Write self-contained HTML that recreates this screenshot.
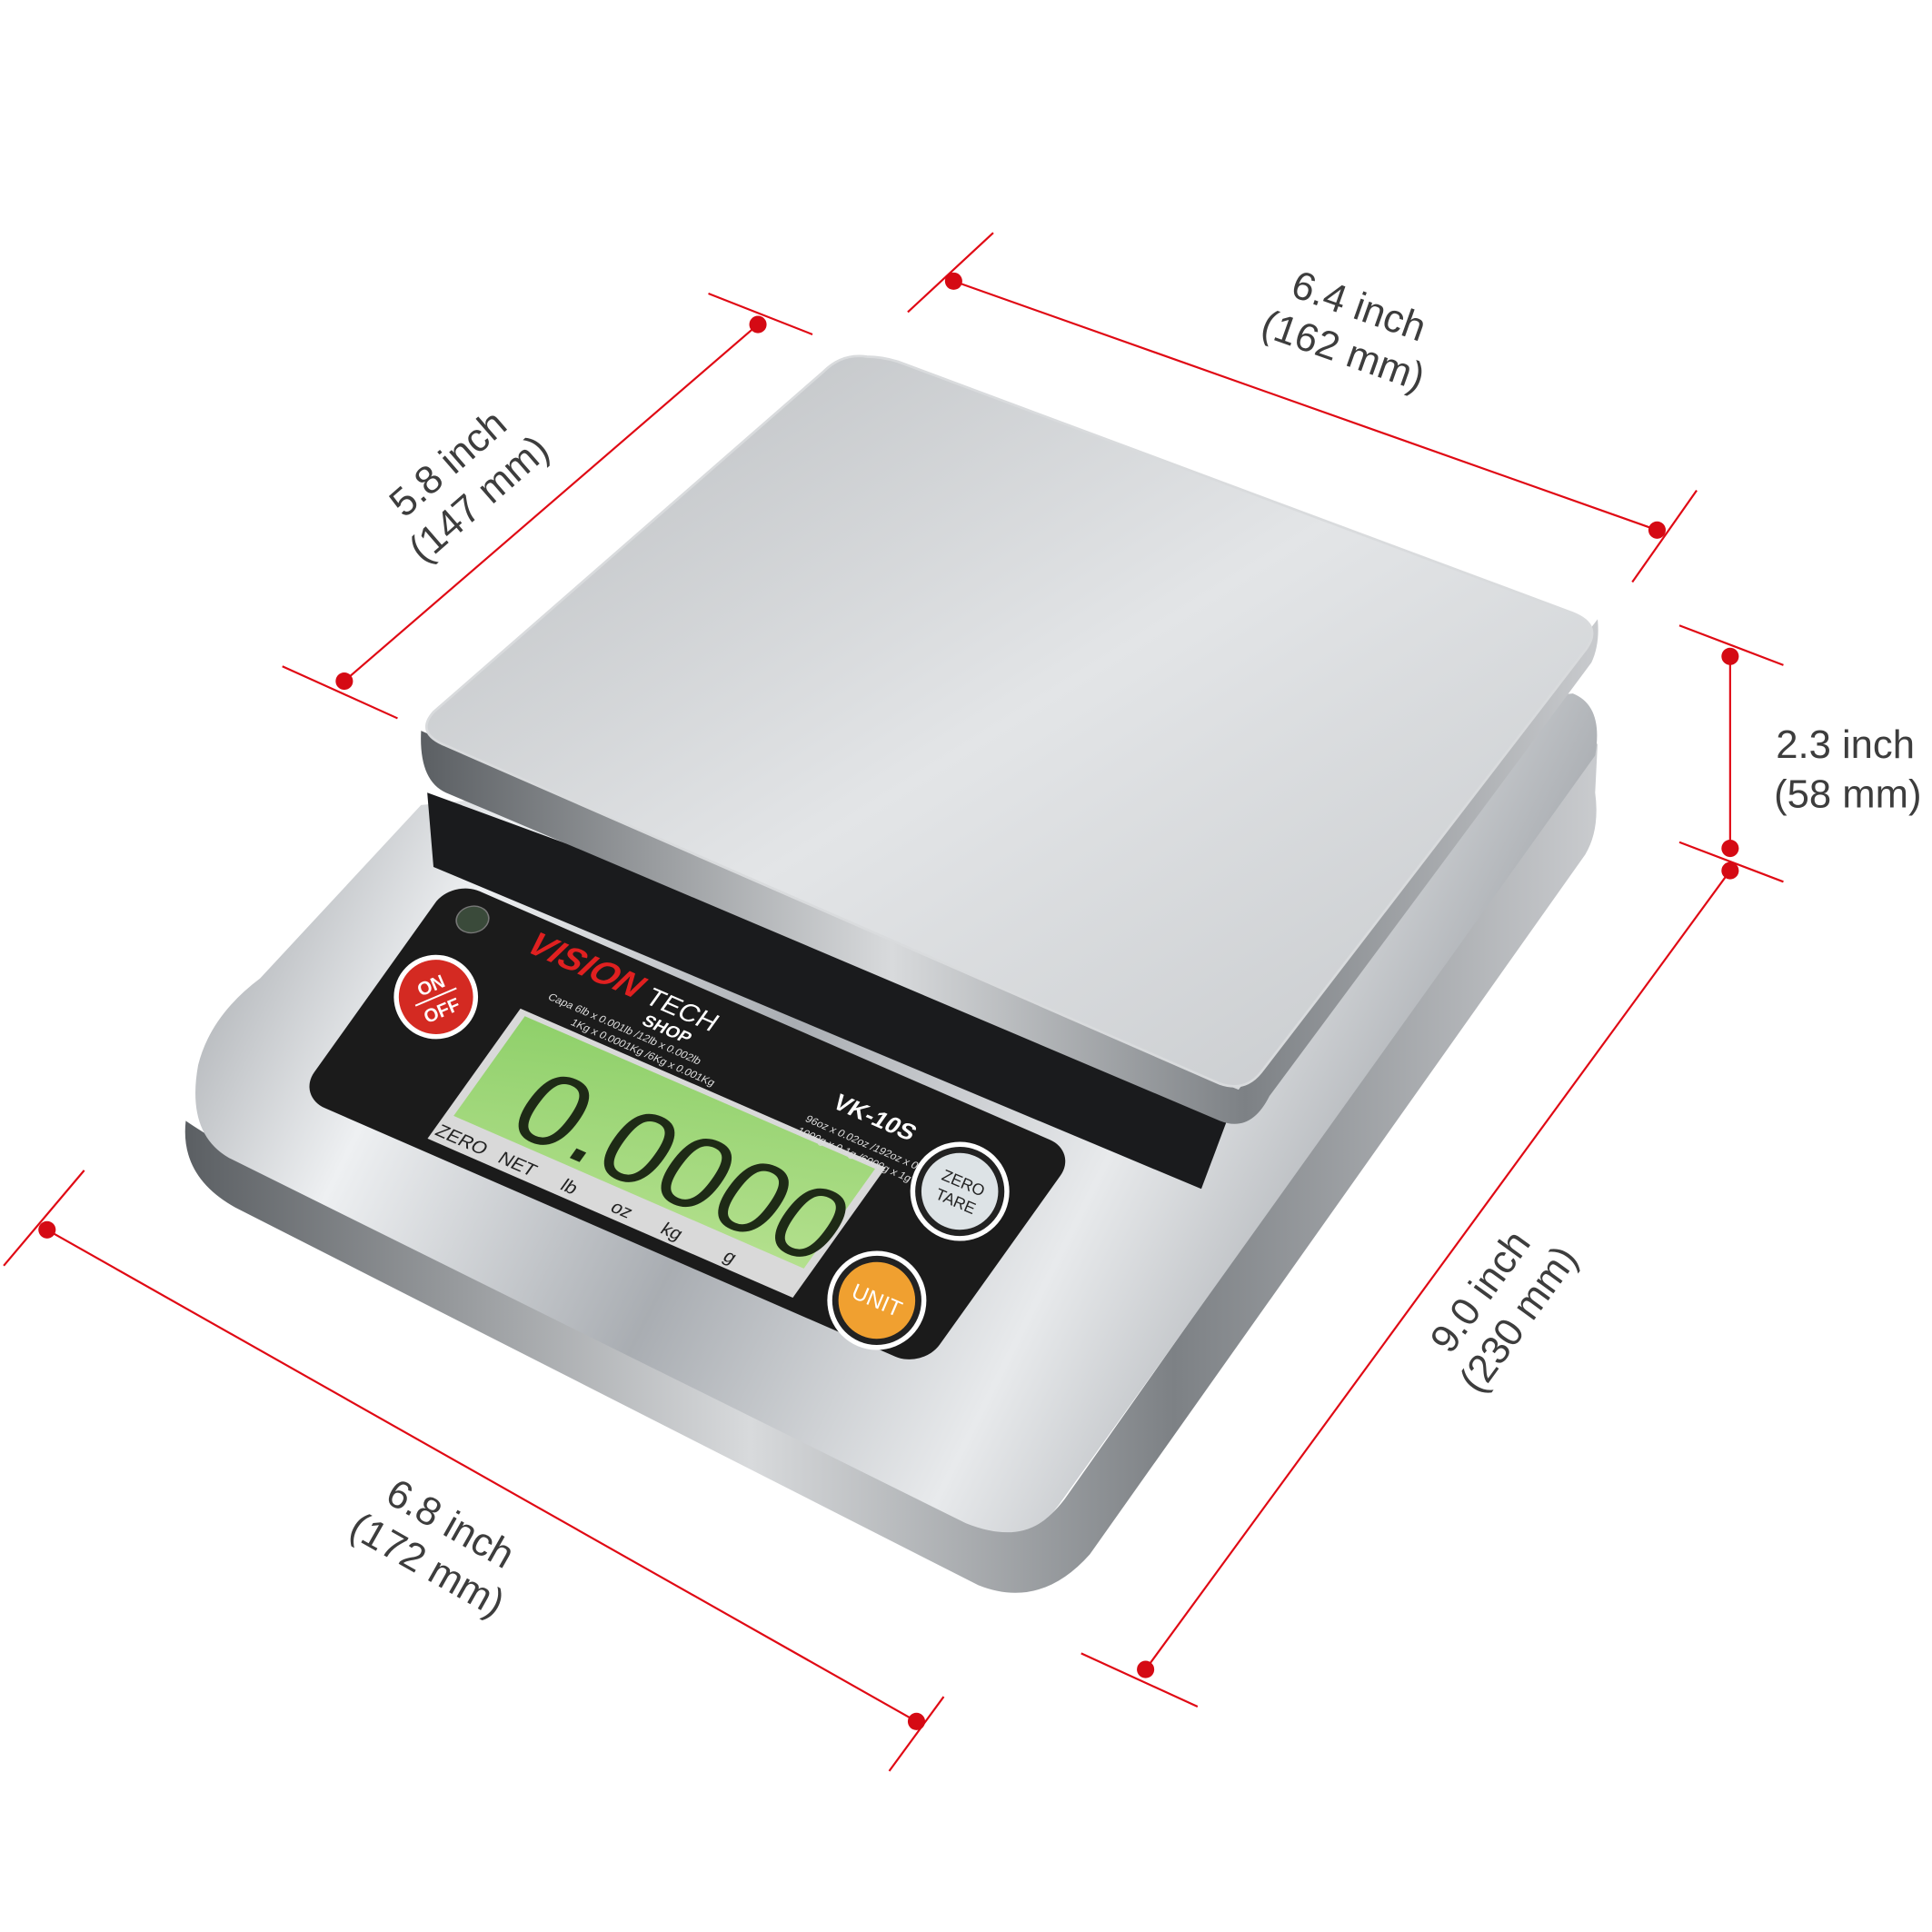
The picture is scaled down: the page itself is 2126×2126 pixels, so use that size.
<!DOCTYPE html>
<html><head><meta charset="utf-8"><style>
html,body{margin:0;padding:0;background:#fff;}
svg{display:block}
text{font-family:"Liberation Sans",sans-serif}
</style></head><body>
<svg width="2126" height="2126" viewBox="0 0 1560 1560" xmlns="http://www.w3.org/2000/svg">
<defs>
<linearGradient id="plat" x1="0" y1="0" x2="1" y2="1">
<stop offset="0" stop-color="#b9bcbf"/><stop offset="0.5" stop-color="#e3e5e7"/><stop offset="1" stop-color="#c4c7ca"/></linearGradient>
<linearGradient id="base" x1="0" y1="0" x2="1" y2="0.3">
<stop offset="0" stop-color="#8d9196"/><stop offset="0.25" stop-color="#eef0f2"/><stop offset="0.5" stop-color="#a9adb2"/><stop offset="0.75" stop-color="#e8eaec"/><stop offset="1" stop-color="#9a9ea3"/></linearGradient>
<linearGradient id="edge" x1="0" y1="0" x2="1" y2="0">
<stop offset="0" stop-color="#5b5f63"/><stop offset="0.4" stop-color="#d8dadc"/><stop offset="0.7" stop-color="#7d8185"/><stop offset="1" stop-color="#c9cbce"/></linearGradient>
<linearGradient id="lcd" x1="0" y1="0" x2="1" y2="1">
<stop offset="0" stop-color="#8fd06a"/><stop offset="1" stop-color="#b4e08e"/></linearGradient>
</defs>

<path d="M150,905 Q145,950 190,975 L790,1280 Q840,1300 880,1255 L1280,690 Q1292,670 1288,640 L1290,600 L860,1210 Q830,1250 790,1230 L190,930 Q160,912 150,905Z" fill="url(#edge)"/>
<path d="M340,650 L1270,560 Q1295,570 1288,610 L855,1215 Q830,1250 780,1230 L185,935 Q150,915 160,860 Q170,820 210,790 Z" fill="url(#base)"/>
<path d="M345,640 L1000,880 L970,960 L350,700Z" fill="#1a1b1d"/>
<path d="M340,590 Q338,630 360,640 L985,905 Q1010,915 1025,885 L1285,535 Q1292,520 1290,500 L1000,880 Z" fill="url(#edge)"/>
<path d="M700,288 Q680,285 665,300 L350,575 Q335,592 360,602 L985,875 Q1005,882 1018,866 L1280,525 Q1295,505 1270,495 L725,292 Q712,288 700,288Z" fill="url(#plat)" stroke="#d9dbdd" stroke-width="2"/>

<g transform="matrix(1.01,0.44,-0.625,0.875,365,710)">
<rect x="0" y="0" width="500" height="200" rx="22" fill="#1b1b1b"/>
<rect x="98" y="70" width="292" height="120" fill="#d9d9d9"/>
<rect x="104" y="74" width="280" height="92" fill="url(#lcd)"/>
<text x="140" y="160" font-size="82" fill="#1e2a16" font-family="Liberation Mono,monospace">0.0000</text>
<text x="100" y="185" font-size="14" fill="#222">ZERO</text>
<text x="150" y="185" font-size="14" fill="#222">NET</text>
<text x="200" y="185" font-size="14" fill="#222">lb</text>
<text x="240" y="185" font-size="14" fill="#222">oz</text>
<text x="280" y="185" font-size="14" fill="#222">kg</text>
<text x="330" y="185" font-size="14" fill="#222">g</text>
<text x="75" y="28" font-size="26" font-weight="bold" font-style="italic" fill="#e02020">VISION</text>
<text x="170" y="28" font-size="20" fill="#fff">TECH</text>
<text x="178" y="44" font-size="13" font-weight="bold" fill="#fff">SHOP</text>
<text x="110" y="55" font-size="8" fill="#ddd">Capa  6lb x 0.001lb /12lb x 0.002lb</text>
<text x="135" y="66" font-size="8" fill="#ddd">1Kg x 0.0001Kg /6Kg x 0.001Kg</text>
<text x="320" y="62" font-size="8" fill="#ddd">96oz x 0.02oz /192oz x 0.05oz</text>
<text x="320" y="73" font-size="8" fill="#ddd">1000g x 0.1g /6000g x 1g</text>
<text x="330" y="44" font-size="18" font-weight="bold" fill="#fff">VK-10S</text>
<circle cx="30" cy="22" r="11" fill="#3a4a3a" stroke="#777"/>
</g>

<g transform="rotate(-23 352 805)">
<circle cx="352" cy="805" r="34" fill="#fff"/><circle cx="352" cy="805" r="30" fill="#d42a22"/>
<text x="352" y="800" font-size="15" font-weight="bold" fill="#fff" text-anchor="middle">ON</text>
<line x1="334" y1="805" x2="370" y2="805" stroke="#fff" stroke-width="1.5"/>
<text x="352" y="822" font-size="15" font-weight="bold" fill="#fff" text-anchor="middle">OFF</text>
</g>
<g transform="rotate(23 775 962)">
<circle cx="775" cy="962" r="40" fill="#fff"/><circle cx="775" cy="962" r="36" fill="#222"/><circle cx="775" cy="962" r="31" fill="#dde3e6"/>
<text x="775" y="959" font-size="13" fill="#222" text-anchor="middle">ZERO</text>
<text x="775" y="975" font-size="13" fill="#222" text-anchor="middle">TARE</text>
</g>
<g transform="rotate(23 708 1050)">
<circle cx="708" cy="1050" r="40" fill="#fff"/><circle cx="708" cy="1050" r="36" fill="#222"/><circle cx="708" cy="1050" r="31" fill="#f0a030"/>
<text x="708" y="1056" font-size="18" fill="#fff" text-anchor="middle">UNIT</text>
</g>

<g stroke="#e00914" stroke-width="1.6" fill="none">
<line x1="770" y1="227" x2="1338" y2="428"/>
<line x1="733" y1="252" x2="802" y2="188"/>
<line x1="1318" y1="470" x2="1370" y2="396"/>
<line x1="278" y1="550" x2="612" y2="262"/>
<line x1="572" y1="237" x2="656" y2="270"/>
<line x1="228" y1="538" x2="321" y2="580"/>
<line x1="1397" y1="530" x2="1397" y2="685"/>
<line x1="1356" y1="505" x2="1440" y2="537"/>
<line x1="1356" y1="680" x2="1440" y2="712"/>
<line x1="1397" y1="703" x2="925" y2="1348"/>
<line x1="873" y1="1335" x2="967" y2="1378"/>
<line x1="38" y1="993" x2="740" y2="1390"/>
<line x1="3" y1="1022" x2="68" y2="945"/>
<line x1="718" y1="1430" x2="762" y2="1370"/>
</g>
<g fill="#d50a14">
<circle cx="770" cy="227" r="7"/><circle cx="1338" cy="428" r="7"/>
<circle cx="278" cy="550" r="7"/><circle cx="612" cy="262" r="7"/>
<circle cx="1397" cy="530" r="7"/><circle cx="1397" cy="685" r="7"/>
<circle cx="1397" cy="703" r="7"/><circle cx="925" cy="1348" r="7"/>
<circle cx="38" cy="993" r="7"/><circle cx="740" cy="1390" r="7"/>
</g>

<g fill="#3d3d3d" font-size="32" text-anchor="middle">
<g transform="translate(1092,262) rotate(19.5)"><text x="0" y="-5">6.4 inch</text><text x="0" y="33">(162 mm)</text></g>
<g transform="translate(372,386) rotate(-41)"><text x="0" y="-5">5.8 inch</text><text x="0" y="33">(147 mm)</text></g>
<g transform="translate(1208,1052) rotate(-54)"><text x="0" y="-5">9.0 inch</text><text x="0" y="33">(230 mm)</text></g>
<g transform="translate(356,1244) rotate(29.5)"><text x="0" y="-5">6.8 inch</text><text x="0" y="33">(172 mm)</text></g>
<text x="1490" y="612">2.3 inch</text>
<text x="1492" y="652">(58 mm)</text>
</g>
</svg>
</body></html>
